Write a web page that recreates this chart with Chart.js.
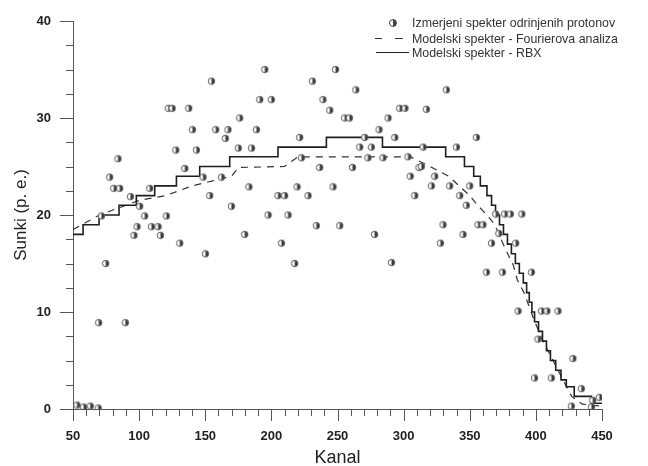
<!DOCTYPE html>
<html>
<head>
<meta charset="utf-8">
<script src="https://cdn.jsdelivr.net/npm/chart.js@4.4.1/dist/chart.umd.min.js"></script>
<style>
html,body{margin:0;padding:0;background:#fff;}
#wrap{position:relative;width:648px;height:466px;overflow:hidden;}
canvas{display:block;}
.lg{position:absolute;font:12.4px "Liberation Sans",Arial,sans-serif;color:#333;white-space:nowrap;line-height:14px;}
.sym{position:absolute;}
</style>
</head>
<body>
<div id="wrap">
<canvas id="c" width="648" height="466"></canvas>
<div class="sym" style="left:389px;top:19px;width:6px;height:6px;border:1px solid #444;border-radius:50%;background:linear-gradient(90deg,#fff 45%,#444 45%);"></div>
<div class="lg" style="left:412px;top:16px;">Izmerjeni spekter odrinjenih protonov</div>
<div class="sym" style="left:375px;top:38px;width:7px;border-top:1.3px solid #333;"></div>
<div class="sym" style="left:395px;top:38px;width:8px;border-top:1.3px solid #333;"></div>
<div class="lg" style="left:412px;top:32px;">Modelski spekter - Fourierova analiza</div>
<div class="sym" style="left:376px;top:52px;width:33px;border-top:1.5px solid #222;"></div>
<div class="lg" style="left:412px;top:46px;">Modelski spekter - RBX</div>
</div>
<script>
// Measured spectrum (channel, counts)
const measX = [53,58,63,69, 69.4,89.6,74.7,71.5,77.7,80.8,85.3,84,93.4,96.1,98.4,100.4,104.2,108,109.3,114.3,116.1,120.6,122,125,137.5,127.7,130.7,134.5,140.3,143.3,148.3,150.1,153.4,154.7,157.9,162.2,165.2,167.2,169.8,176,175,179.8,183,185,188.7,191.2,195,197.5,200,205,207.6,210,212.6,217.6,219.4,221.4,222.7,227.7,231,234,236.5,239,244.1,246.6,248.5,251.7,255.4,259,261.3,263.8,266.8,270.6,273,275.6,278,281.4,284.4,288.2,290.8,293.3,297,301,303.3,305,308.4,311.6,313.4,314.7,317.2,321,323.5,327.8,329.8,332.3,334.8,339.9,342.4,344.9,347.4,350,355,356.2,360,362.6,366.4,369.6,372,374.7,376.4,380.7,384.7,386.5,389.4,396.6,399,401.6,404.2,408.4,411.7,416.7,428,426.8,434.4,442,443,448];
const measY = [0.4,0.2,0.3,0.1, 8.9,8.9,15,19.9,23.9,22.75,22.75,25.8,21.9,17.9,18.8,20.9,19.9,22.75,18.8,18.8,17.9,19.9,31,31,31,26.7,17.1,24.8,28.8,26.7,23.9,16,22,33.8,28.8,23.9,27.9,28.8,20.9,30,26.9,18,22.9,26.9,28.8,31.9,35,20,31.9,22,17.1,22,20,15,22.9,28,25.9,22,33.8,18.9,24.9,31.9,30.8,22.9,35,18.9,30,30,24.9,32.9,27,28,25.9,27,18,28.8,25.9,30,15.1,28,31,31,26,24,22,24.9,25,27,30.9,23,24,17.1,19,32.9,23,27,22,18,21,23,28,19,19,14.1,17.1,20.1,18.1,14.1,20.1,20.1,17.1,10.1,20.1,14.1,3.2,7.2,10.1,10.1,3.2,10.1,5.2,0.3,2.1,0.2,0.9,1.2];

// Model spectrum - Fourier analysis
const fourX = [50,70,100,120,140,170,175,210,220,305,320,334,342,350,356,363,369,372,378,383,386,391,398.6,405,413,420.5,427,435,450];
const fourY = [18.5,20,21.5,22,23,24,24.9,25,26,26,25,24,23,22,21,20,19,18,16.2,14.8,13.3,12,9.2,7.1,5,3,1.3,0.5,0.3];

// Model spectrum - RBX (step starts)
const rbxX = [50,57.6,69.7,84.8,97.9,111.8,128.2,145.8,168.5,205,241.6,284,331.8,346,353,358,363,366.5,369.5,372.5,375.5,378.5,381.5,384.5,387.5,390.5,393,395,397,399,402,405,408,411,415,419,423,429,442,450];
const rbxY = [18,19,20,21,22,23,24,25,26,27,28,27,26,25,24,23,22,21,20,19,18,17,16,15,14,13,12,11,10,9,8,7,6,5,4,3,2.3,1.3,0.6,0.6];

const xTickLabels = [50,100,150,200,250,300,350,400,450];
const yTickLabels = [0,10,20,30,40];

// marker image
const mk = document.createElement('canvas');
mk.width = 9; mk.height = 9;
(function(){
  const c = mk.getContext('2d');
  c.beginPath(); c.arc(4.5,4.5,3.2,0,Math.PI*2); c.fillStyle='#fff'; c.fill();
  c.beginPath(); c.moveTo(4.5,1.3); c.arc(4.5,4.5,3.2,-Math.PI/2,Math.PI/2); c.closePath(); c.fillStyle='#3c3c3c'; c.fill();
  c.beginPath(); c.arc(4.5,4.5,3.2,0,Math.PI*2); c.strokeStyle='#555'; c.lineWidth=1; c.stroke();
})();

const tickPlugin = {
  id:'ticks2',
  afterDraw(chart){
    const ctx = chart.ctx, ca = chart.chartArea;
    const xs = chart.scales.x, ys = chart.scales.y;
    ctx.save();
    ctx.strokeStyle = '#555'; ctx.lineWidth = 1;
    xs.ticks.forEach(t=>{
      const p = Math.round(xs.getPixelForValue(t.value))+0.5;
      const len = xTickLabels.includes(t.value) ? 12 : 7;
      ctx.beginPath(); ctx.moveTo(p, ca.bottom); ctx.lineTo(p, ca.bottom+len); ctx.stroke();
    });
    ys.ticks.forEach(t=>{
      const p = Math.round(ys.getPixelForValue(t.value))+0.5;
      const len = yTickLabels.includes(t.value) ? 13 : 7;
      ctx.beginPath(); ctx.moveTo(ca.left, p); ctx.lineTo(ca.left-len, p); ctx.stroke();
    });
    ctx.restore();
  }
};

const tickFont = {family:'"Liberation Sans", Arial, sans-serif', size:13, weight:'bold'};

new Chart(document.getElementById('c'), {
  type:'scatter',
  data:{datasets:[
    {label:'Izmerjeni spekter odrinjenih protonov', data: measX.map((x,i)=>({x:x,y:measY[i]})),
     pointStyle: mk, pointRadius:4, showLine:false, order:0},
    {label:'Modelski spekter - Fourierova analiza', type:'line', data: fourX.map((x,i)=>({x:x,y:fourY[i]})),
     borderColor:'#333', borderWidth:1.2, borderDash:[7,6], pointRadius:0, fill:false, tension:0, order:2},
    {label:'Modelski spekter - RBX', type:'line', data: rbxX.map((x,i)=>({x:x,y:rbxY[i]})),
     borderColor:'#1e1e1e', borderWidth:1.6, stepped:true, pointRadius:0, fill:false, order:1}
  ]},
  options:{
    responsive:false, animation:false, devicePixelRatio:1,
    layout:{padding:{top:21,right:46,left:0,bottom:0}},
    plugins:{legend:{display:false}, tooltip:{enabled:false}},
    scales:{
      x:{type:'linear', min:50, max:450,
        border:{color:'#555', width:1},
        grid:{drawOnChartArea:false, tickLength:12, tickColor:'rgba(0,0,0,0)'},
        ticks:{stepSize:10, autoSkip:false, maxRotation:0, padding:8, color:'#222', font:tickFont,
          callback:v=> xTickLabels.includes(v) ? String(v) : ''},
        title:{display:true, text:'Kanal', color:'#222', font:{family:'"Liberation Sans", Arial, sans-serif', size:18}, padding:{top:0,bottom:-3}},
        afterFit(s){ s.height = 57; }
      },
      y:{type:'linear', min:0, max:40,
        border:{color:'#555', width:1},
        grid:{drawOnChartArea:false, tickLength:13, tickColor:'rgba(0,0,0,0)'},
        ticks:{stepSize:2.5, autoSkip:false, padding:9, color:'#222', font:tickFont,
          callback:v=> yTickLabels.includes(v) ? String(v) : ''},
        title:{display:true, text:'Sunki (p. e.)', color:'#222', font:{family:'"Liberation Sans", Arial, sans-serif', size:17}, padding:{top:11,bottom:0}},
        afterFit(s){ s.width = 73; }
      }
    }
  },
  plugins:[tickPlugin]
});
</script>
</body>
</html>
